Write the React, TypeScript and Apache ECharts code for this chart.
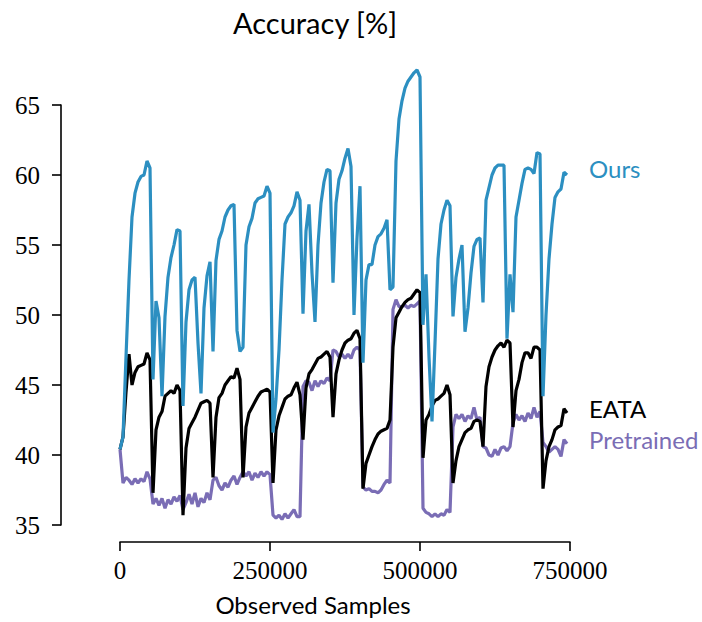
import React, { useEffect, useRef } from "react";
import * as echarts from "echarts";

// Evaluation step (observed samples between two points)
const STEP = 5000;

const X_TICKS = [0, 250000, 500000, 750000];
const Y_TICKS = [35, 40, 45, 50, 55, 60, 65];

const OURS = [
  40.4,
  41.3, 47, 52.5, 57, 58.7, 59.5, 59.9, 60, 61, 60.5,
  45.4, 51, 49.8, 44.2, 49.9, 52.7, 54.1, 55, 56.1, 56,
  43.5, 49.5, 51.8, 52.5, 52.7, 48, 44.4, 50.5, 52.8, 53.8,
  47.4, 53.9, 55.4, 56, 57, 57.5, 57.8, 57.9, 48.9, 47.4,
  47.7, 55, 56.3, 56.9, 58, 58.3, 58.4, 58.5, 59.2, 58.7,
  41.6, 44, 47.5, 52.5, 56.5, 57, 57.3, 57.8, 58.8, 58.2,
  50.1, 56, 57.9, 53, 49.5, 55, 58, 59.5, 60.4, 60.3,
  52.3, 58, 59.7, 60.3, 61.2, 61.9, 60.6, 50, 55.5, 59.2,
  46.6, 52.5, 53.6, 53.6, 55, 55.6, 55.8, 56.2, 56.8, 51.8,
  52, 61, 64, 65.3, 66.2, 66.7, 67, 67.3, 67.5, 67,
  49.3, 52.9, 47, 42.4, 48, 54, 56.5, 57.5, 58.2, 57.8,
  49.9, 52.7, 54, 55, 48.8, 50.5, 53, 54.9, 55.4, 55.5,
  50.9, 58.2, 59.1, 60, 60.5, 60.7, 60.7, 60.7, 48.3, 52.9,
  50.2, 57, 58.2, 59.4, 60.4, 60.5, 60.4, 60.1, 61.6, 61.5,
  44.2, 50, 54, 56.5, 58.4, 58.8, 59, 60.2, 60,
];

const EATA = [
  40.4,
  41.3, 44.5, 47.2, 45, 45.9, 46.3, 46.4, 46.5, 47.3, 46.8,
  37.3, 41.8, 42.7, 43.1, 44.2, 44.4, 44.6, 44.4, 45, 44.6,
  35.7, 40.5, 41.9, 42.3, 42.7, 43.2, 43.7, 43.8, 43.9, 43.7,
  38.4, 42.7, 44.1, 44.4, 45, 45.3, 45.6, 45.5, 46.2, 45.4,
  38.4, 42, 43, 43.4, 43.8, 44.2, 44.5, 44.6, 44.7, 44.5,
  38, 41.8, 42.8, 43.4, 44, 44.2, 44.3, 44.8, 45.2, 44.3,
  41.1, 44.8, 45.8, 46.1, 46.5, 46.9, 47, 47.2, 47.4, 47,
  42.7, 45.8, 46.8, 47.5, 48, 48.2, 48.3, 48.7, 48.9, 48.3,
  37.6, 39.4, 40, 40.6, 41.1, 41.5, 41.7, 41.8, 41.9, 42.5,
  47.7, 49.8, 50.2, 50.6, 50.9, 51.1, 51.2, 51.5, 51.8, 51.6,
  39.8, 42.5, 42.9, 43.5, 43.9, 44, 44.2, 44.4, 45, 44.3,
  38, 39.6, 40.6, 41.1, 41.6, 41.8, 41.9, 42.4, 42.5, 42.4,
  40.6, 44.9, 46.3, 47, 47.5, 47.8, 48, 47.7, 48.2, 48,
  42, 44.6, 45.4, 46.6, 47.3, 47.3, 46.9, 47.7, 47.7, 47.5,
  37.6, 39.6, 40.6, 41.1, 41.8, 42, 42.1, 43.3, 43,
];

const PRETRAINED = [
  40.4,
  38.0, 38.4, 38.2, 37.9, 38.3, 38.0, 38.3, 38.1, 38.8, 38.3,
  36.5, 36.9, 36.4, 36.9, 36.2, 36.8, 36.5, 37.0, 36.7, 37.1,
  36.1, 36.6, 37.2, 36.5, 37.3, 36.3, 36.9, 36.6, 37.3, 36.8,
  38.2, 38.4, 37.8, 37.5, 38.0, 37.7, 38.2, 38.5, 37.9, 38.4,
  38.8, 38.5, 38.8, 38.2, 38.7, 38.4, 38.8, 38.5, 38.8, 38.6,
  35.7, 35.5, 35.7, 35.4, 35.8, 35.5, 35.8, 36.1, 35.6, 35.6,
  44.9, 45.3, 45.2, 44.6, 45.3, 44.9, 45.3, 45.1, 45.5, 45.3,
  47.5, 47.4, 47.0, 47.2, 46.9, 47.2, 46.9, 47.5, 47.7, 47.5,
  37.7, 37.5, 37.6, 37.4, 37.4, 37.3, 37.5, 37.9, 38.2, 38.0,
  50.4, 51.1, 50.6, 50.6, 50.7, 50.5, 50.7, 50.6, 50.8, 51.0,
  36.2, 35.9, 35.8, 35.6, 35.8, 35.6, 35.8, 35.7, 36.1, 35.9,
  42.0, 42.9, 42.6, 42.9, 42.4, 42.8, 42.6, 43.4, 42.5, 42.7,
  40.6, 40.5, 40.0, 39.9, 40.4, 40.0, 40.5, 40.6, 40.3, 40.6,
  42.3, 42.9, 42.5, 42.8, 42.4, 43.0, 42.6, 43.4, 42.7, 43.1,
  40.9, 40.6, 40.2, 40.4, 40.6, 40.4, 39.9, 41.1, 40.8,
];

const SERIES_NAMES = ["Pretrained", "EATA", "Ours"];
const COLORS = { Ours: "#2c8fc1", EATA: "#000000", Pretrained: "#7a6db5" };

const SANS = "Lato, 'Open Sans', sans-serif";
const SERIF = "'Liberation Serif', 'DejaVu Serif', serif";

export default function App() {
  const ref = useRef<HTMLDivElement>(null);

  useEffect(() => {
    document.body.style.margin = "0";
    if (!ref.current) return;
    const chart = echarts.init(ref.current, null, { renderer: "svg" });

    const toPairs = (vals: number[]) => vals.map((v, i) => [i * STEP, v]);
    const dataMap: Record<string, number[]> = {
      Ours: OURS,
      EATA: EATA,
      Pretrained: PRETRAINED,
    };
    const labelOffset: Record<string, number[]> = {
      Ours: [0, -7],
      EATA: [0, -5],
      Pretrained: [0, -4],
    };

    chart.setOption({
      animation: false,
      backgroundColor: "#ffffff",
      grid: { left: 120, top: 105, width: 450, height: 420, containLabel: false },
      xAxis: {
        type: "value",
        min: X_TICKS[0],
        max: X_TICKS[X_TICKS.length - 1],
        interval: X_TICKS[1] - X_TICKS[0],
        offset: 17,
        axisLine: { show: true, onZero: false, lineStyle: { color: "#000", width: 1.6 } },
        axisTick: { show: true, length: 9, lineStyle: { color: "#000", width: 1.6 } },
        axisLabel: {
          margin: 16,
          color: "#000",
          fontFamily: SERIF,
          fontSize: 25,
          formatter: (v: number) => String(v),
        },
        splitLine: { show: false },
      },
      yAxis: {
        type: "value",
        min: Y_TICKS[0],
        max: Y_TICKS[Y_TICKS.length - 1],
        interval: Y_TICKS[1] - Y_TICKS[0],
        offset: 59,
        axisLine: { show: true, onZero: false, lineStyle: { color: "#000", width: 1.6 } },
        axisTick: { show: true, length: 9, lineStyle: { color: "#000", width: 1.6 } },
        axisLabel: {
          margin: 21,
          color: "#000",
          fontFamily: SERIF,
          fontSize: 25,
          formatter: (v: number) => String(v),
        },
        splitLine: { show: false },
      },
      graphic: [
        {
          type: "text",
          x: 315,
          y: 22,
          style: {
            text: "Accuracy [%]",
            fill: "#000",
            font: `29px ${SANS}`,
            textAlign: "center",
            textVerticalAlign: "middle",
          },
        },
        {
          type: "text",
          x: 313,
          y: 604,
          style: {
            text: "Observed Samples",
            fill: "#000",
            font: `24px ${SANS}`,
            textAlign: "center",
            textVerticalAlign: "middle",
          },
        },
      ],
      series: SERIES_NAMES.map((name) => ({
        name,
        type: "line",
        data: toPairs(dataMap[name]),
        showSymbol: false,
        clip: false,
        lineStyle: { color: COLORS[name as keyof typeof COLORS], width: 3.2 },
        itemStyle: { color: COLORS[name as keyof typeof COLORS] },
        endLabel: {
          show: true,
          formatter: name,
          distance: 22,
          offset: labelOffset[name],
          color: COLORS[name as keyof typeof COLORS],
          fontFamily: SANS,
          fontSize: 24,
          align: "left",
          verticalAlign: "middle",
        },
        emphasis: { disabled: true },
      })),
    });

    return () => chart.dispose();
  }, []);

  return <div ref={ref} style={{ width: 702, height: 622 }} />;
}
